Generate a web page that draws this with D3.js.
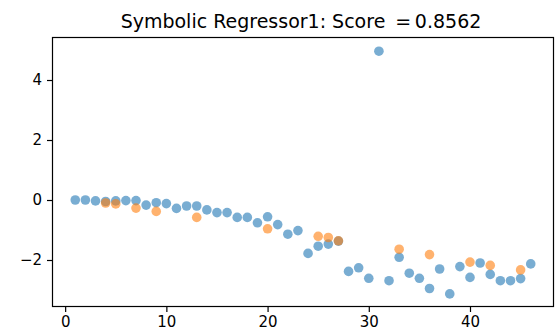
<!DOCTYPE html>
<html>
<head>
<meta charset="utf-8">
<script src="https://cdn.jsdelivr.net/npm/d3@7"></script>
<style>
  body { margin: 0; background: #fff; }
  text { font-family: "DejaVu Sans", sans-serif; }
</style>
</head>
<body>
<div id="chart"></div>
<script>
// x positions of the blue (true) series: 1..46
const xTrue = [1,2,3,4,5,6,7,8,9,10,11,12,13,14,15,16,17,18,19,20,21,22,23,24,25,26,27,28,29,30,31,32,33,34,35,36,37,38,39,40,41,42,43,44,45,46]
const yTrue = [0.0,0.0,-0.03,-0.05,-0.03,-0.02,-0.02,-0.17,-0.09,-0.12,-0.28,-0.2,-0.2,-0.33,-0.42,-0.42,-0.58,-0.58,-0.76,-0.56,-0.82,-1.14,-1.02,-1.78,-1.54,-1.47,-1.37,-2.38,-2.26,-2.61,4.96,-2.69,-1.91,-2.44,-2.61,-2.95,-2.3,-3.13,-2.22,-2.58,-2.1,-2.48,-2.69,-2.69,-2.62,-2.13]

// orange (predicted) points, only at some indices
const xPred = [4,5,7,9,13,20,25,26,27,33,36,40,42,45]
const yPred = [-0.1,-0.13,-0.27,-0.38,-0.58,-0.96,-1.21,-1.25,-1.36,-1.64,-1.82,-2.07,-2.18,-2.33]

const xTicks = [0,10,20,30,40]
const yTicks = [-2,0,2,4]
const title = 'Symbolic Regressor1: Score \u2009=\u20090.8562'

const svgWidth = 558
const svgHeight = 332
const margin = { left: 52.5, right: 4.5, top: 37.5, bottom: 25.5 }
const width = svgWidth - margin.left - margin.right
const height = svgHeight - margin.top - margin.bottom

const svg = d3.select('#chart')
  .append('svg')
  .attr('width', svgWidth)
  .attr('height', svgHeight)

const g = svg.append('g')
  .attr('transform', 'translate(' + margin.left + ',' + margin.top + ')')

const xScale = d3.scaleLinear().domain([-1.25, 48.25]).range([0, width])
const yScale = d3.scaleLinear().domain([-3.55, 5.417]).range([height, 0])

// axes
const fmt = d => d < 0 ? '\u2212' + Math.abs(d) : String(d)

const xAxis = g.append('g')
  .attr('transform', 'translate(0,' + height + ')')
  .call(d3.axisBottom(xScale).tickValues(xTicks).tickFormat(fmt).tickSize(5.5).tickPadding(4))
const yAxis = g.append('g')
  .call(d3.axisLeft(yScale).tickValues(yTicks).tickFormat(fmt).tickSize(5.5).tickPadding(5))

;[xAxis, yAxis].forEach(a => {
  a.select('.domain').remove()
  a.selectAll('.tick line').attr('stroke', '#000').attr('stroke-width', 1.2)
  a.selectAll('.tick text')
    .attr('fill', '#000')
    .style('font-family', '"DejaVu Sans", sans-serif')
    .style('font-size', '15px')
})

// frame
g.append('rect')
  .attr('width', width)
  .attr('height', height)
  .attr('fill', 'none')
  .attr('stroke', '#000')
  .attr('stroke-width', 1.2)

// points
const r = 4.8
g.selectAll('.true')
  .data(xTrue.map((x, i) => ({ x: x, y: yTrue[i] })))
  .join('circle')
  .attr('class', 'true')
  .attr('cx', d => xScale(d.x))
  .attr('cy', d => yScale(d.y))
  .attr('r', r)
  .attr('fill', '#1f77b4')
  .attr('fill-opacity', 0.6)

g.selectAll('.pred')
  .data(xPred.map((x, i) => ({ x: x, y: yPred[i] })))
  .join('circle')
  .attr('class', 'pred')
  .attr('cx', d => xScale(d.x))
  .attr('cy', d => yScale(d.y))
  .attr('r', r)
  .attr('fill', '#ff7f0e')
  .attr('fill-opacity', 0.6)

// title
svg.append('text')
  .attr('x', margin.left + width / 2 - 2)
  .attr('y', 28)
  .attr('text-anchor', 'middle')
  .attr('fill', '#000')
  .style('font-size', '19px')
  .text(title)
</script>
</body>
</html>
